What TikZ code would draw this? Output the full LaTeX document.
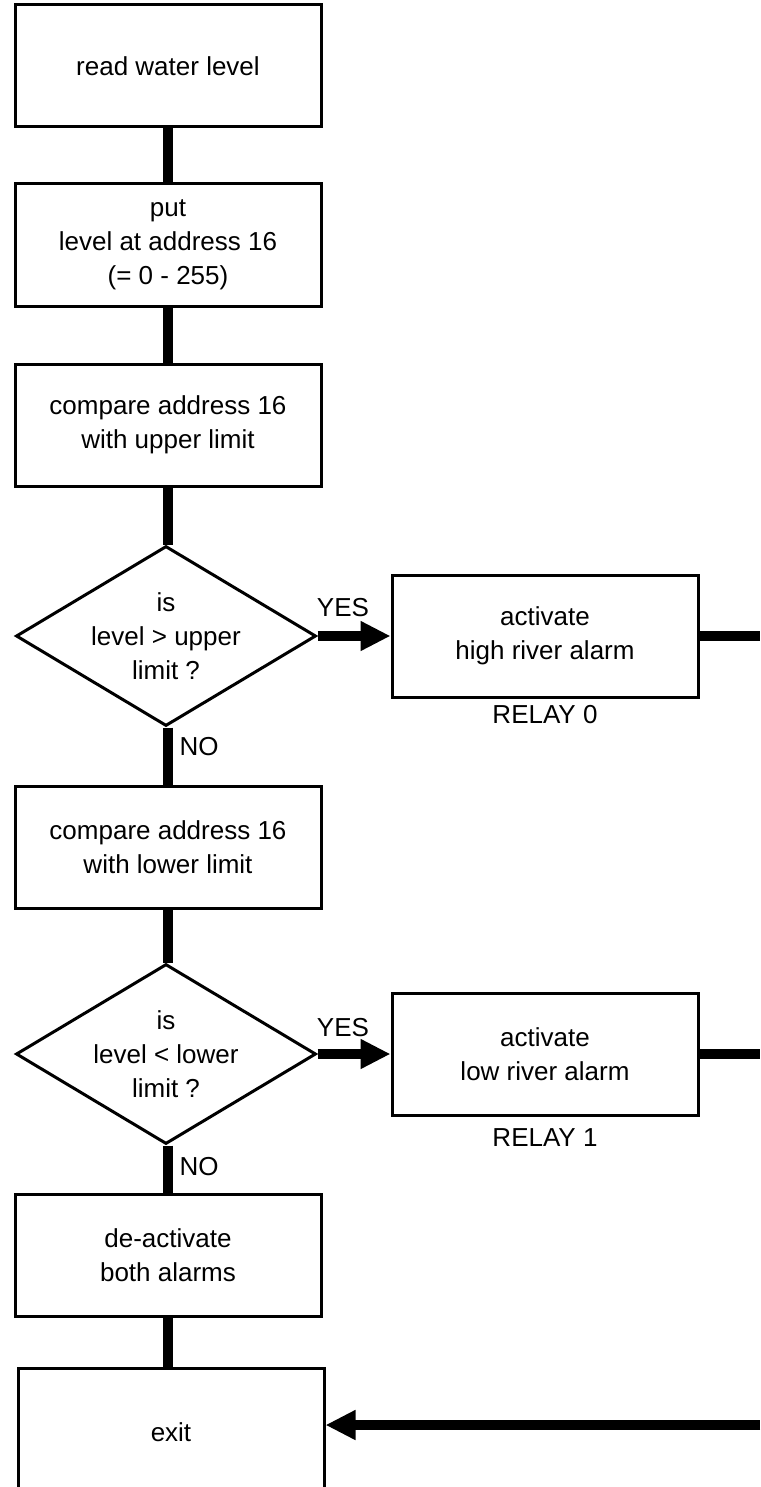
\documentclass[tikz,border=0pt]{standalone}
\usepackage{fontspec}
\setmainfont{Liberation Sans}
\usetikzlibrary{arrows.meta, shapes.geometric}

\tikzset{
    stepbox/.style={draw, line width=1.5pt, minimum width=153pt, minimum height=61pt,
        inner sep=0pt, align=center},
    decision/.style={draw, diamond, line width=1.5pt, aspect=1.667, minimum width=150pt,
        minimum height=90pt, inner sep=0pt, align=center},
    flowline/.style={line width=5pt},
    flowarrow/.style={line width=5pt, -{Triangle[length=15pt,width=14pt]}},
}

\begin{document}
\begin{tikzpicture}[x=0.5pt, y=-0.5pt, font=\fontsize{13}{17}\selectfont]
    \useasboundingbox (0,0) rectangle (760,1487);

    \node[stepbox] (read) at (168,66) {read water level};
    \node[stepbox] (put) at (168,245) {put\\level at address 16\\(= 0 - 255)};
    \node[stepbox] (cmpup) at (168,425) {compare address 16\\with upper limit};
    \node[decision] (isup) at (166,636) {is\\level > upper\\limit ?};
    \node[stepbox] (high) at (545,636) {activate\\high river alarm};
    \node[stepbox] (cmplow) at (168,847) {compare address 16\\with lower limit};
    \node[decision] (islow) at (166,1054) {is\\level < lower\\limit ?};
    \node[stepbox] (low) at (545,1054) {activate\\low river alarm};
    \node[stepbox] (deact) at (168,1255) {de-activate\\both alarms};
    \node[stepbox, minimum height=64pt] (exit) at (171,1432) {exit};

    \node (relay0) at (545,715) {RELAY 0};
    \node (relay1) at (545,1138) {RELAY 1};
    \node (yes0) at (343,608) {YES};
    \node (yes1) at (343,1028) {YES};
    \node (no0) at (199,747) {NO};
    \node (no1) at (199,1167) {NO};

    \coordinate (r0) at (760,636);
    \coordinate (r1) at (760,1054);
    \coordinate (r2) at (760,1425);

    \draw[flowline] (read) -- (put);
    \draw[flowline] (put) -- (cmpup);
    \draw[flowline] (cmpup.south) -- (cmpup.south |- isup.north);
    \draw[flowline] (cmplow.north |- isup.south) -- (cmplow.north);
    \draw[flowline] (cmplow.south) -- (cmplow.south |- islow.north);
    \draw[flowline] (deact.north |- islow.south) -- (deact.north);
    \draw[flowline] (deact.south) -- (deact.south |- exit.north);

    \draw[flowarrow] (isup.east) -- (high.west);
    \draw[flowarrow] (islow.east) -- (low.west);
    \draw[flowline] (high.east) -- (r0);
    \draw[flowline] (low.east) -- (r1);
    \draw[flowarrow] (r2) -- (r2 -| exit.east);
\end{tikzpicture}
\end{document}
